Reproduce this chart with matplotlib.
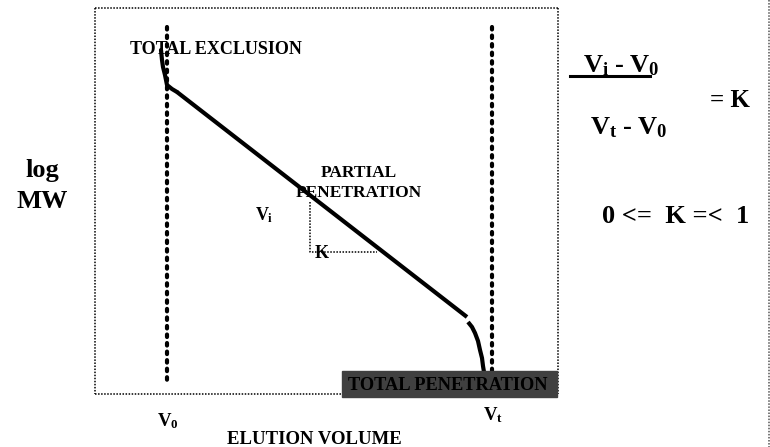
"""Gel filtration calibration sketch: log MW against elution volume."""

import matplotlib
matplotlib.use('Agg')
import matplotlib.pyplot as plt
from matplotlib.patches import Rectangle

plt.rcParams['font.family'] = ['Liberation Serif', 'DejaVu Serif']
plt.rcParams['font.weight'] = 'bold'
plt.rcParams['mathtext.fontset'] = 'custom'
plt.rcParams['mathtext.rm'] = 'Liberation Serif:bold'
plt.rcParams['mathtext.it'] = 'Liberation Serif:bold'
plt.rcParams['mathtext.bf'] = 'Liberation Serif:bold'

W, H = 770, 447

# elution volume (x) / log MW (y) in drawing units, y grows downward
V0_X = 167
VT_X = 492
MARKER_TOP = 27
V0_BOTTOM = 385
VT_BOTTOM = 372

# total exclusion bend, partial penetration slope, total penetration bend
excl_x = [161, 162, 163, 165, 166, 167, 172, 177]
excl_y = [50, 60, 67, 75, 80, 85, 89, 92]
partial_x = [177, 467]
partial_y = [92, 317]
pen_x = [468, 472, 475, 478, 480, 482, 483, 484]
pen_y = [322, 327, 333, 341, 350, 358, 366, 372]

# K triangle under the slope
tri_x = [310, 310, 377]
tri_y = [202, 252, 252]

# frame around the plot
frame_left, frame_right = 95, 558
frame_top, frame_bottom = 8, 394
box_left, box_right = 342, 557
box_top, box_bottom = 371, 397


def dotted(ax, xs, ys, color='black'):
  """Thin dotted rule."""
  ax.plot(xs, ys, color=color, lw=1.1, ls=(0, (1, 1)), solid_capstyle='butt')


def main():
  fig = plt.figure(figsize=(W / 100, H / 100), dpi=100)
  ax = fig.add_axes([0, 0, 1, 1])
  ax.set_xlim(0, W)
  ax.set_ylim(H, 0)
  ax.axis('off')

  # frame
  dotted(ax, [frame_left, frame_right], [frame_top, frame_top])
  dotted(ax, [frame_left, frame_left], [frame_top, frame_bottom])
  dotted(ax, [frame_left, box_left], [frame_bottom, frame_bottom])
  dotted(ax, [frame_right, frame_right], [frame_top, frame_bottom])
  dotted(ax, [W - 1, W - 1], [0, H], color='#555555')

  # V0 and Vt markers, a chain of beads
  for x, bottom in [(V0_X, V0_BOTTOM), (VT_X, VT_BOTTOM)]:
    ax.plot([x, x], [MARKER_TOP, bottom], color='black', lw=3,
            ls=(0, (0.6, 1.45)), dash_capstyle='round')

  # calibration curve
  ax.plot(excl_x, excl_y, color='black', lw=3, solid_capstyle='round')
  ax.plot(partial_x, partial_y, color='black', lw=3, solid_capstyle='butt')
  ax.plot(pen_x, pen_y, color='black', lw=3, solid_capstyle='butt')

  dotted(ax, tri_x, tri_y)

  ax.add_patch(Rectangle((box_left, box_top), box_right - box_left,
                         box_bottom - box_top, color='#404040', zorder=3))

  txt = dict(color='black', fontweight='bold', va='baseline')
  ax.text(130, 54, 'TOTAL EXCLUSION', fontsize=13, ha='left', **txt)
  ax.text(359, 177, 'PARTIAL', fontsize=12.5, ha='center', **txt)
  ax.text(359, 197, 'PENETRATION', fontsize=12.5, ha='center', **txt)
  ax.text(348, 390, 'TOTAL PENETRATION', fontsize=13.2, ha='left',
          zorder=4, **txt)
  ax.text(255, 220, r'$V_i$', fontsize=13, ha='left', **txt)
  ax.text(315, 258, 'K', fontsize=13, ha='left', **txt)
  ax.text(42, 177, 'log', fontsize=19, ha='center', **txt)
  ax.text(42, 208, 'MW', fontsize=19, ha='center', **txt)
  ax.text(157, 426, r'$V_0$', fontsize=13.5, ha='left', **txt)
  ax.text(483, 420, r'$V_t$', fontsize=13.5, ha='left', **txt)
  ax.text(227, 444, 'ELUTION VOLUME', fontsize=13.5, ha='left', **txt)

  ax.text(583, 72, r'$V_i$ - $V_0$', fontsize=19, ha='left', **txt)
  ax.plot([570, 650], [76, 76], color='black', lw=2.2)
  ax.text(710, 107, '= K', fontsize=18, ha='left', **txt)
  ax.text(590, 134, r'$V_t$ - $V_0$', fontsize=19, ha='left', **txt)
  ax.text(602, 223, '0 <=  K =<  1', fontsize=19, ha='left', **txt)

  fig.savefig('out.png', dpi=100, facecolor='white')


if __name__ == '__main__':
  main()
